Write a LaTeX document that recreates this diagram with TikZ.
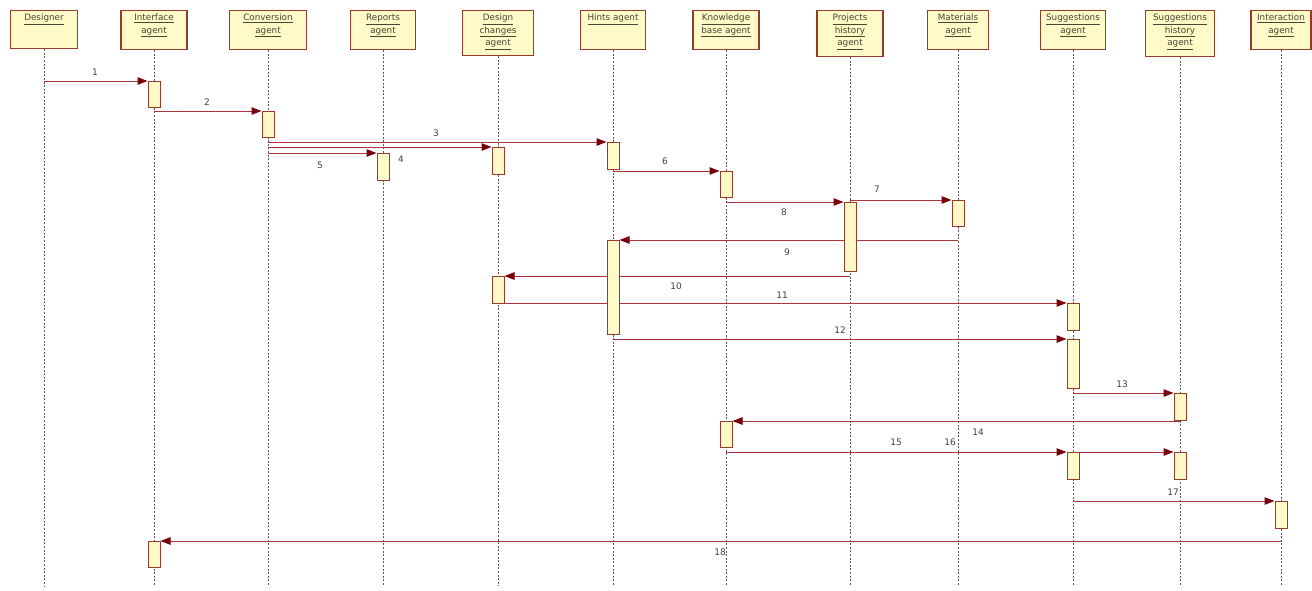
\documentclass[tikz,border=0pt]{standalone}
\usepackage{fontspec}
\setmainfont{DejaVu Sans}
\usetikzlibrary{arrows.meta}
\definecolor{boxfill}{RGB}{255,250,200}
\definecolor{boxdraw}{RGB}{150,60,40}
\definecolor{msgline}{RGB}{175,50,60}
\definecolor{tipred}{RGB}{120,0,10}
\definecolor{hdrtext}{RGB}{70,70,50}
\definecolor{lifegray}{RGB}{90,90,90}
\pgfdeclarelayer{bg}
\pgfsetlayers{bg,main}
\begin{document}
\begin{tikzpicture}[x=1pt,y=-1pt,
 hdr/.style={draw=boxdraw, fill=boxfill, line width=1.1pt, inner sep=0pt, anchor=north},
 hdrlab/.style={anchor=north, yshift=-4pt, inner sep=0pt, align=center, text=hdrtext, font=\fontsize{8.8}{12.5}\selectfont},
 actbox/.style={draw=boxdraw, fill=boxfill, line width=1pt, minimum width=12pt, inner sep=0pt, anchor=north},
 msg/.style={draw=msgline, line width=1pt, -{Triangle[length=10pt,width=7.5pt,color=tipred]}},
 life/.style={draw=lifegray, line width=0.9pt, dash pattern=on 2pt off 1.6pt},
 num/.style={font=\fontsize{9}{10}\selectfont, text=black!75, inner sep=0pt},
]
\useasboundingbox (0,0) rectangle (1312,590);

% headers
\node[hdr, minimum width=67pt, minimum height=38pt, label={[hdrlab]north:\underline{Designer}}] (designer) at (44,10) {};
\node[hdr, minimum width=66pt, minimum height=39pt, label={[hdrlab]north:{\underline{Interface}\\\underline{agent}}}] (interface) at (154,10) {};
\node[hdr, minimum width=77pt, minimum height=39pt, label={[hdrlab]north:{\underline{Conversion}\\\underline{agent}}}] (conversion) at (268,10) {};
\node[hdr, minimum width=65pt, minimum height=39pt, label={[hdrlab]north:{\underline{Reports}\\\underline{agent}}}] (reports) at (383,10) {};
\node[hdr, minimum width=71pt, minimum height=45pt, label={[hdrlab]north:{\underline{Design}\\\underline{changes}\\\underline{agent}}}] (design) at (498,10) {};
\node[hdr, minimum width=65pt, minimum height=39pt, label={[hdrlab]north:\underline{Hints agent}}] (hints) at (613,10) {};
\node[hdr, minimum width=66pt, minimum height=39pt, label={[hdrlab]north:{\underline{Knowledge}\\\underline{base agent}}}] (knowledge) at (726,10) {};
\node[hdr, minimum width=66pt, minimum height=46pt, label={[hdrlab]north:{\underline{Projects}\\\underline{history}\\\underline{agent}}}] (projects) at (850,10) {};
\node[hdr, minimum width=61pt, minimum height=39pt, label={[hdrlab]north:{\underline{Materials}\\\underline{agent}}}] (materials) at (958,10) {};
\node[hdr, minimum width=65pt, minimum height=39pt, label={[hdrlab]north:{\underline{Suggestions}\\\underline{agent}}}] (suggestions) at (1073,10) {};
\node[hdr, minimum width=69pt, minimum height=46pt, label={[hdrlab]north:{\underline{Suggestions}\\\underline{history}\\\underline{agent}}}] (shistory) at (1180,10) {};
\node[hdr, minimum width=60pt, minimum height=39pt, label={[hdrlab]north:{\underline{Interaction}\\\underline{agent}}}] (interaction) at (1281,10) {};

% activations
\node[actbox, minimum height=26pt] (a1) at (154,81) {};
\node[actbox, minimum height=26pt] (a2) at (268,111) {};
\node[actbox, minimum height=27pt] (a3) at (383,153) {};
\node[actbox, minimum height=27pt] (a4) at (498,147) {};
\node[actbox, minimum height=27pt] (a5) at (613,142) {};
\node[actbox, minimum height=26pt] (a6) at (726,171) {};
\node[actbox, minimum height=69pt] (a7) at (850,202) {};
\node[actbox, minimum height=26pt] (a8) at (958,200) {};
\node[actbox, minimum height=94pt] (a9) at (613,240) {};
\node[actbox, minimum height=27pt] (a10) at (498,276) {};
\node[actbox, minimum height=27pt] (a11) at (1073,303) {};
\node[actbox, minimum height=49pt] (a12) at (1073,339) {};
\node[actbox, minimum height=27pt] (a13) at (1180,393) {};
\node[actbox, minimum height=26pt] (a14) at (726,421) {};
\node[actbox, minimum height=27pt] (a15) at (1073,452) {};
\node[actbox, minimum height=27pt] (a16) at (1180,452) {};
\node[actbox, minimum height=27pt] (a17) at (1281,501) {};
\node[actbox, minimum height=26pt] (a18) at (154,541) {};

% message labels
\node[num] (n1) at (95,72) {1};
\node[num] (n2) at (207,102) {2};
\node[num] (n3) at (436,133) {3};
\node[num] (n4) at (401,159) {4};
\node[num] (n5) at (320,165) {5};
\node[num] (n6) at (665,161) {6};
\node[num] (n7) at (877,189) {7};
\node[num] (n8) at (784,212) {8};
\node[num] (n9) at (787,252) {9};
\node[num] (n10) at (676,286) {10};
\node[num] (n11) at (782,295) {11};
\node[num] (n12) at (840,330) {12};
\node[num] (n13) at (1122,384) {13};
\node[num] (n14) at (978,432) {14};
\node[num] (n15) at (896,442) {15};
\node[num] (n16) at (950,442) {16};
\node[num] (n17) at (1173,492) {17};
\node[num] (n18) at (720,552) {18};

\begin{pgfonlayer}{bg}
% lifelines
\foreach \n in {designer,interface,conversion,reports,design,hints,knowledge,projects,materials,suggestions,shistory,interaction}
  \draw[life] (\n.south) -- (\n.south |- 0,586);
% messages
\coordinate (s1) at (44,81);
\coordinate (s2) at (154,111);
\coordinate (s3) at (268,142);
\coordinate (s4) at (268,147);
\coordinate (s5) at (268,153);
\coordinate (s6) at (613,171);
\coordinate (s7) at (850,200);
\coordinate (s8) at (726,202);
\coordinate (s9) at (958,240);
\coordinate (s10) at (850,276);
\coordinate (s11) at (498,303);
\coordinate (s12) at (613,339);
\coordinate (s13) at (1073,393);
\coordinate (s14) at (1180,421);
\coordinate (s15) at (726,452);
\coordinate (s16) at (1073,452);
\coordinate (s17) at (1073,501);
\coordinate (s18) at (1281,541);
\draw[msg] (s1) -- (a1.north west);
\draw[msg] (s2) -- (a2.north west);
\draw[msg] (s3) -- (a5.north west);
\draw[msg] (s4) -- (a4.north west);
\draw[msg] (s5) -- (a3.north west);
\draw[msg] (s6) -- (a6.north west);
\draw[msg] (s7) -- (a8.north west);
\draw[msg] (s8) -- (a7.north west);
\draw[msg] (s9) -- (a9.north east);
\draw[msg] (s10) -- (a10.north east);
\draw[msg] (s11) -- (a11.north west);
\draw[msg] (s12) -- (a12.north west);
\draw[msg] (s13) -- (a13.north west);
\draw[msg] (s14) -- (a14.north east);
\draw[msg] (s15) -- (a15.north west);
\draw[msg] (s16) -- (a16.north west);
\draw[msg] (s17) -- (a17.north west);
\draw[msg] (s18) -- (a18.north east);
\end{pgfonlayer}
\end{tikzpicture}
\end{document}
